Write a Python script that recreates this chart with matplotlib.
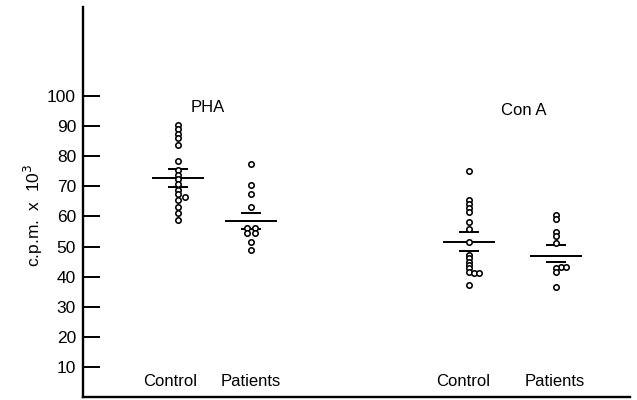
import matplotlib
matplotlib.use("Agg")
import matplotlib.pyplot as plt

plt.rcParams['font.family'] = ['Liberation Sans', 'DejaVu Sans']

# ---- data (c.p.m. x 10^3) ----
pha_control = [90.4, 89.0, 87.5, 86.0, 83.6, 78.5, 75.5, 73.8, 72.3, 70.8,
               68.8, 67.3, 66.5, 65.6, 63.2, 61.0, 58.8]
pha_patients = [77.5, 70.3, 67.5, 63.0, 56.0, 56.0, 54.5, 54.5, 51.6, 48.7]
cona_control = [75.0, 65.6, 64.2, 62.8, 61.4, 58.0, 55.8, 51.6, 47.2, 46.1,
                45.0, 43.9, 42.8, 41.6, 41.2, 41.2, 37.2]
cona_patients = [60.5, 59.1, 54.9, 53.5, 51.3, 43.3, 43.3, 42.8, 41.6, 36.6]

means = [72.9, 58.5, 51.6, 46.8]
se_upper = [75.7, 61.2, 54.9, 50.5]
se_lower = [69.9, 55.8, 48.6, 45.0]

group_labels = ["Control", "Patients", "Control", "Patients"]
stim_labels = ["PHA", "Con A"]
yticks = [10, 20, 30, 40, 50, 60, 70, 80, 90, 100]

# ---- layout (horizontal placement, in axis units) ----
centers = [178, 251, 469, 556]
offsets = [
    [0]*12 + [7] + [0]*4,
    [0, 0, 0, 0, -4, 4, -4, 4, 0, 0],
    [0]*14 + [5, 10, 0],
    [0, 0, 0, 0, 0, 5, 10, 0, 0, 0],
]
label_x = [170, 251, 463, 555]
stim_x = [208, 524]
stim_y = [96.3, 95.3]

fig = plt.figure(figsize=(6.37, 4.0), dpi=100)
ax = fig.add_axes([83/637, 3/400, (630-83)/637, 390/400])
ax.set_xlim(83, 630)
ax.set_ylim(0, 129.6)

series = [pha_control, pha_patients, cona_control, cona_patients]
for i, vals in enumerate(series):
    xs = [centers[i] + o for o in offsets[i]]
    ax.plot(xs, vals, linestyle='none', marker='o', markersize=3.9,
            markerfacecolor='white', markeredgecolor='black',
            markeredgewidth=1.15, zorder=3)
    ax.hlines(means[i], centers[i] - 26, centers[i] + 26, color='black',
              linewidth=1.4, zorder=2)
    ax.hlines([se_upper[i], se_lower[i]], centers[i] - 10, centers[i] + 10,
              color='black', linewidth=1.4, zorder=2)
    ax.text(label_x[i], 5.3, group_labels[i], ha='center', va='center',
            fontsize=12)

for x, y, s in zip(stim_x, stim_y, stim_labels):
    ax.text(x, y, s, ha='center', va='center', fontsize=12)

ax.set_yticks(yticks)
ax.set_yticklabels([str(t) for t in yticks], fontsize=12.5)
ax.tick_params(axis='y', direction='in', length=12, width=1.4, pad=5)
ax.set_xticks([])
for side in ['top', 'right']:
    ax.spines[side].set_visible(False)
ax.spines['left'].set_linewidth(1.7)
ax.spines['bottom'].set_linewidth(1.7)

fig.text(33/637, 1 - 215/400, r"c.p.m.  x  10$^3$", rotation=90,
         ha='center', va='center', fontsize=12.5)

fig.savefig("out.png", dpi=100, facecolor='white')
